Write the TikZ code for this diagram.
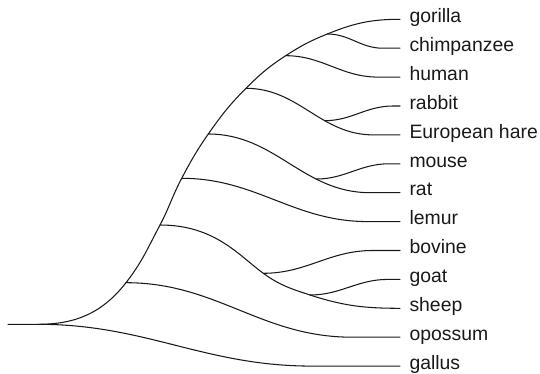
\documentclass[tikz,border=0pt]{standalone}
\usepackage{fontspec}
\setmainfont{Liberation Sans}
\begin{document}
\begin{tikzpicture}[x=1pt,y=1pt,
  edge/.style={line width=1.05pt, draw=black!90, line cap=round},
  leaf/.style={anchor=mid west, inner sep=0pt, font=\fontsize{19.4}{22}\selectfont, text=black!90}]
\useasboundingbox (0,0) rectangle (540,374);

% leaf line ends
\foreach \n/\y in {eg/354.7, ec/325.8, eh/296.9, er/268.0, ee/239.1, em/210.2, et/181.3,
                   el/152.4, eb/123.5, eo/94.6, es/65.7, ep/36.8, ea/7.9}
  \coordinate (\n) at (400,\y);

% labels
\node[leaf] (lgor) at ([xshift=9.3pt,yshift=-0.6pt]eg) {gorilla};
\node[leaf] (lchi) at ([xshift=9.3pt,yshift=-0.6pt]ec) {chimpanzee};
\node[leaf] (lhum) at ([xshift=9.3pt,yshift=-0.6pt]eh) {human};
\node[leaf] (lrab) at ([xshift=9.3pt,yshift=-0.6pt]er) {rabbit};
\node[leaf] (lhar) at ([xshift=9.3pt,yshift=-0.6pt]ee) {European hare};
\node[leaf] (lmou) at ([xshift=9.3pt,yshift=-0.6pt]em) {mouse};
\node[leaf] (lrat) at ([xshift=9.3pt,yshift=-0.6pt]et) {rat};
\node[leaf] (llem) at ([xshift=9.3pt,yshift=-0.6pt]el) {lemur};
\node[leaf] (lbov) at ([xshift=9.3pt,yshift=-0.6pt]eb) {bovine};
\node[leaf] (lgoa) at ([xshift=9.3pt,yshift=-0.6pt]eo) {goat};
\node[leaf] (lshe) at ([xshift=9.3pt,yshift=-0.6pt]es) {sheep};
\node[leaf] (lopo) at ([xshift=9.3pt,yshift=-0.6pt]ep) {opossum};
\node[leaf] (lgal) at ([xshift=9.3pt,yshift=-0.6pt]ea) {gallus};

% internal nodes
\coordinate (S)  at (8,49.7);
\coordinate (R)  at (38.3,49.7);
\coordinate (n1) at (126,91.3);
\coordinate (n2) at (160,149);
\coordinate (n3) at (181.7,195.7);
\coordinate (n4) at (208.3,240);
\coordinate (n5) at (246,285.7);
\coordinate (n6) at (285.7,318.3);
\coordinate (n7) at (327.3,340);
\coordinate (b1) at (263.3,100.7);
\coordinate (b2) at (310,79);

% spine
\draw[edge] (S) -- (R) to[out=0,in=232] (n1) to[out=52,in=242] (n2)
  to[out=62,in=242] (n3) to[out=62,in=235] (n4) to[out=55,in=225] (n5)
  to[out=45,in=213] (n6) to[out=33,in=202] (n7) to[out=22,in=180] (eg);

% single branches
\draw[edge] (R)  to[out=0,in=180] ([xshift=-88pt]ea) -- (ea);
\draw[edge] (n1) to[out=0,in=180] ([xshift=-48pt]ep) -- (ep);
\draw[edge] (n3) to[out=0,in=180] ([xshift=-32pt]el) -- (el);
\draw[edge] (n6) to[out=0,in=180] ([xshift=-22pt]eh) -- (eh);
\draw[edge] (n7) to[out=0,in=180] ([xshift=-17.3pt]ec) -- (ec);

% glires
\draw[edge] (n5) to[out=0,in=180] coordinate[pos=0.633] (g1) ([xshift=-26.6pt]ee) -- (ee);
\draw[edge] (g1) to[out=0,in=180] ([xshift=-7pt]er) -- (er);

% mouse / rat
\draw[edge] (n4) to[out=0,in=180] coordinate[pos=0.687] (m1) ([xshift=-30pt]et) -- (et);
\draw[edge] (m1) to[out=0,in=180] ([xshift=-11pt]em) -- (em);

% bovine clade
\draw[edge] (n2) .. controls +(55,0) and +(-24.3,17.6) .. (b1)
  to[out=-36,in=162] (b2) to[out=-18,in=180] (es);
\draw[edge] (b1) to[out=0,in=180] ([xshift=-27.3pt]eb) -- (eb);
\draw[edge] (b2) to[out=0,in=180] ([xshift=-12pt]eo) -- (eo);
\end{tikzpicture}
\end{document}
